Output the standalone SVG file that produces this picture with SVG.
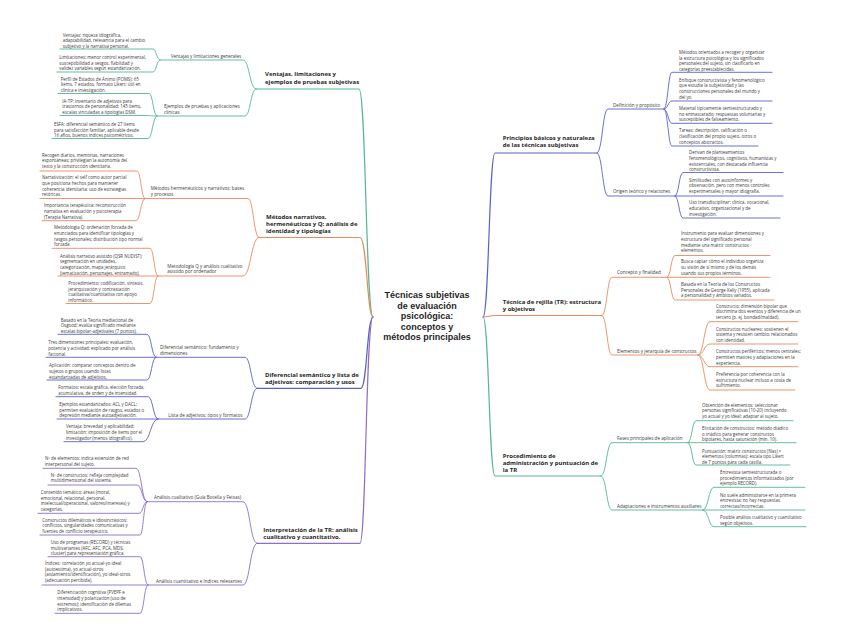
<svg xmlns="http://www.w3.org/2000/svg" width="848" height="644" viewBox="0 0 848 644">
<style>
text{font-family:"Open Sans","Liberation Sans",sans-serif}
.lf{font-size:4.4px;fill:#3b3b3b}
.sb{font-size:4.6px;fill:#3b3b3b}
.br{font-size:6px;font-weight:700;fill:#1f1f1f}
text.rt{font-family:"Liberation Sans",Arial,sans-serif;font-size:9px;font-weight:700;fill:#1f1f1f;text-anchor:middle}
#connectors path{fill:none;stroke-width:0.9;stroke-linecap:round}
#connectors path.w{stroke-width:1.2}
.g{stroke:#55b891}.o{stroke:#e98a5f}.b{stroke:#5c62c8}.p{stroke:#8d6fc6}
</style>
<rect width="848" height="644" fill="#ffffff"/>
<g id="connectors">
<path class="g w" d="M373,317 C366,317 366,89 359,89 H256"/>
<path class="o w" d="M373,317 C367,317 367,237.5 360,237.5 H259"/>
<path class="b w" d="M373,317 C367,317 367,388.3 361,388.3 H257"/>
<path class="p w" d="M373,317 C366,317 366,543.3 360,543.3 H257"/>
<path class="b w" d="M483,317 C489,317 489,153 495,153 H597"/>
<path class="o w" d="M483,317 C489,317 489,315.5 495,315.5 H602"/>
<path class="g w" d="M483,317 C489,317 489,476 495,476 H601"/>
<path class="g" d="M256,89 C249.5,89 249.5,60 243,60 H160"/>
<path class="g" d="M256,89 C250.5,89 250.5,116 245,116 H157"/>
<path class="o" d="M259,237.5 C253.5,237.5 253.5,198.5 248,198.5 H145"/>
<path class="o" d="M259,237.5 C251,237.5 251,276 243,276 H158"/>
<path class="b" d="M257,388.3 C251,388.3 251,357.3 245,357.3 H156"/>
<path class="b" d="M257,388.3 C251,388.3 251,419 245,419 H158"/>
<path class="p" d="M257,543.3 C250,543.3 250,501.7 243,501.7 H147"/>
<path class="p" d="M257,543.3 C250,543.3 250,585 243,585 H148"/>
<path class="g" d="M160,60 C156.5,60 156.5,49 153,49 H60"/>
<path class="g" d="M160,60 C156.5,60 156.5,72 153,72 H57"/>
<path class="g" d="M157,116 C153,116 153,93.5 149,93.5 H58"/>
<path class="g" d="M157,116 C151.5,116 151.5,115.5 146,115.5 H60"/>
<path class="g" d="M157,116 C152.5,116 152.5,138.5 148,138.5 H52"/>
<path class="o" d="M145,198.5 C141,198.5 141,171 137,171 H40"/>
<path class="o" d="M145,198.5 H40"/>
<path class="o" d="M145,198.5 C140.5,198.5 140.5,220.7 136,220.7 H42"/>
<path class="o" d="M158,276 C154,276 154,248.3 150,248.3 H52"/>
<path class="o" d="M158,276 H58"/>
<path class="o" d="M158,276 C154,276 154,303.5 150,303.5 H66"/>
<path class="b" d="M156,357.3 C151.5,357.3 151.5,334.3 147,334.3 H58"/>
<path class="b" d="M156,357.3 H46"/>
<path class="b" d="M156,357.3 C151.5,357.3 151.5,380 147,380 H47"/>
<path class="b" d="M158,419 C153,419 153,396.7 148,396.7 H56"/>
<path class="b" d="M158,419 H57"/>
<path class="b" d="M158,419 C150.5,419 150.5,441.7 143,441.7 H64"/>
<path class="p" d="M147,501.7 C141.5,501.7 141.5,468.3 136,468.3 H43"/>
<path class="p" d="M147,501.7 C142,501.7 142,485 137,485 H48"/>
<path class="p" d="M147,501.7 C143,501.7 143,513.3 139,513.3 H38"/>
<path class="p" d="M147,501.7 C143.5,501.7 143.5,535 140,535 H40"/>
<path class="p" d="M148,585 C144,585 144,556.7 140,556.7 H48"/>
<path class="p" d="M148,585 H42"/>
<path class="p" d="M148,585 C144,585 144,613.3 140,613.3 H55"/>
<path class="b" d="M597,153 C602.5,153 602.5,109 608,109 H664"/>
<path class="b" d="M597,153 C602.5,153 602.5,196 608,196 H675"/>
<path class="o" d="M602,315.5 C607,315.5 607,277.3 612,277.3 H667"/>
<path class="o" d="M602,315.5 C607,315.5 607,355 612,355 H698"/>
<path class="g" d="M601,476 C606.5,476 606.5,442.7 612,442.7 H688"/>
<path class="g" d="M601,476 C606.5,476 606.5,510 612,510 H703"/>
<path class="b" d="M664,109 C668,109 668,72.3 672,72.3 H772"/>
<path class="b" d="M664,109 C668,109 668,101 672,101 H772"/>
<path class="b" d="M664,109 C668,109 668,123.3 672,123.3 H772"/>
<path class="b" d="M664,109 C668,109 668,146 672,146 H758"/>
<path class="b" d="M675,196 C679,196 679,172.5 683,172.5 H783"/>
<path class="b" d="M675,196 H783"/>
<path class="b" d="M675,196 C679,196 679,218 683,218 H780"/>
<path class="o" d="M667,277.3 C671,277.3 671,255.5 675,255.5 H770"/>
<path class="o" d="M667,277.3 H770"/>
<path class="o" d="M667,277.3 C671,277.3 671,300 675,300 H774"/>
<path class="o" d="M698,355 C704,355 704,321.7 710,321.7 H798"/>
<path class="o" d="M698,355 C704,355 704,344 710,344 H798"/>
<path class="o" d="M698,355 C704,355 704,366.7 710,366.7 H798"/>
<path class="o" d="M698,355 C704,355 704,390 710,390 H795"/>
<path class="g" d="M688,442.7 C692,442.7 692,420.7 696,420.7 H793"/>
<path class="g" d="M688,442.7 H796"/>
<path class="g" d="M688,442.7 C692,442.7 692,465 696,465 H790"/>
<path class="g" d="M703,510 C708.5,510 708.5,487.3 714,487.3 H805"/>
<path class="g" d="M703,510 H805"/>
<path class="g" d="M703,510 C708.5,510 708.5,526.7 714,526.7 H806"/>
</g>

<g id="root"><text class="rt" x="427" y="298.2">Técnicas subjetivas<tspan x="427" dy="10.5">de evaluación</tspan><tspan x="427" dy="10.5">psicológica:</tspan><tspan x="427" dy="10.5">conceptos y</tspan><tspan x="427" dy="10.5">métodos principales</tspan></text></g>

<g id="b-ventajas"><text class="br" x="265" y="76.4">Ventajas, limitaciones y<tspan x="265" dy="7.2">ejemplos de pruebas subjetivas</tspan></text></g>
<g id="s-ventajas-generales"><text class="sb" x="170.7" y="58.3">Ventajas y limitaciones generales</text></g>
<g id="l-ventajas"><text class="lf" x="62.7" y="36.6">Ventajas: riqueza idiográfica,<tspan x="62.7" dy="5.65">adaptabilidad, relevancia para el cambio</tspan><tspan x="62.7" dy="5.65">subjetivo y la narrativa personal.</tspan></text></g>
<g id="l-limitaciones"><text class="lf" x="59.3" y="58.9">Limitaciones: menor control experimental,<tspan x="59.3" dy="5.65">susceptibilidad a sesgos, fiabilidad y</tspan><tspan x="59.3" dy="5.65">validez variables según estandarización.</tspan></text></g>
<g id="s-ejemplos"><text class="sb" x="164" y="108.3">Ejemplos de pruebas y aplicaciones<tspan x="164" dy="5.7">clínicas</tspan></text></g>
<g id="l-poms"><text class="lf" x="60.7" y="80.6">Perfil de Estados de Ánimo (POMS): 65<tspan x="60.7" dy="5.65">ítems, 7 estados, formato Likert; útil en</tspan><tspan x="60.7" dy="5.65">clínica e investigación.</tspan></text></g>
<g id="l-iatp"><text class="lf" x="62.3" y="102.6">IA-TP: inventario de adjetivos para<tspan x="62.3" dy="5.65">trastornos de personalidad; 145 ítems,</tspan><tspan x="62.3" dy="5.65">escalas vinculadas a tipologías DSM.</tspan></text></g>
<g id="l-esfa"><text class="lf" x="54" y="125.9">ESFA: diferencial semántico de 27 ítems<tspan x="54" dy="5.65">para satisfacción familiar, aplicable desde</tspan><tspan x="54" dy="5.65">16 años, buenos índices psicométricos.</tspan></text></g>

<g id="b-narrativos"><text class="br" x="266" y="218.8">Métodos narrativos,<tspan x="266" dy="7">hermenéuticos y Q: análisis de</tspan><tspan x="266" dy="7">identidad y tipologías</tspan></text></g>
<g id="s-hermeneuticos"><text class="sb" x="150.7" y="190.3">Métodos hermenéuticos y narrativos: bases<tspan x="150.7" dy="5.7">y procesos</tspan></text></g>
<g id="l-recogen"><text class="lf" x="42" y="156.6">Recogen diarios, memorias, narraciones<tspan x="42" dy="5.65">espontáneas; privilegian la autonomía del</tspan><tspan x="42" dy="5.65">texto y la construcción identitaria.</tspan></text></g>
<g id="l-narrativizacion"><text class="lf" x="42" y="179.3">Narrativización: el self como autor parcial<tspan x="42" dy="5.65">que posiciona hechos para mantener</tspan><tspan x="42" dy="5.65">coherencia identitaria; uso de estrategias</tspan><tspan x="42" dy="5.65">retóricas.</tspan></text></g>
<g id="l-terapeutica"><text class="lf" x="44" y="207.3">Importancia terapéutica: reconstrucción<tspan x="44" dy="5.65">narrativa en evaluación y psicoterapia</tspan><tspan x="44" dy="5.65">(Terapia Narrativa).</tspan></text></g>
<g id="s-metodologia-q"><text class="sb" x="167.3" y="267.6">Metodología Q y análisis cualitativo<tspan x="167.3" dy="5.7">asistido por ordenador</tspan></text></g>
<g id="l-q"><text class="lf" x="54" y="229.3">Metodología Q: ordenación forzada de<tspan x="54" dy="5.65">enunciados para identificar tipologías y</tspan><tspan x="54" dy="5.65">rasgos personales; distribución tipo normal</tspan><tspan x="54" dy="5.65">forzada.</tspan></text></g>
<g id="l-nudist"><text class="lf" x="60" y="257.6">Análisis narrativo asistido (QSR NUDIST):<tspan x="60" dy="5.65">segmentación en unidades,</tspan><tspan x="60" dy="5.65">categorización, mapa jerárquico</tspan><tspan x="60" dy="5.65">(tematización, personajes, entramado).</tspan></text></g>
<g id="l-procedimiento"><text class="lf" x="68.3" y="284.9">Procedimiento: codificación, síntesis,<tspan x="68.3" dy="5.65">jerarquización y contrastación</tspan><tspan x="68.3" dy="5.65">cualitativa/cuantitativa con apoyo</tspan><tspan x="68.3" dy="5.65">informático.</tspan></text></g>

<g id="b-diferencial"><text class="br" x="265" y="377">Diferencial semántico y lista de<tspan x="265" dy="7">adjetivos: comparación y usos</tspan></text></g>
<g id="s-diferencial"><text class="sb" x="160" y="349.3">Diferencial semántico: fundamento y<tspan x="160" dy="5.7">dimensiones</tspan></text></g>
<g id="l-osgood"><text class="lf" x="60.7" y="321.6">Basado en la Teoría mediacional de<tspan x="60.7" dy="5.65">Osgood; evalúa significado mediante</tspan><tspan x="60.7" dy="5.65">escalas bipolar-adjetivales (7 puntos).</tspan></text></g>
<g id="l-dimensiones"><text class="lf" x="48.3" y="344.3">Tres dimensiones principales: evaluación,<tspan x="48.3" dy="5.65">potencia y actividad; explicado por análisis</tspan><tspan x="48.3" dy="5.65">factorial.</tspan></text></g>
<g id="l-aplicacion"><text class="lf" x="49" y="367.3">Aplicación: comparar conceptos dentro de<tspan x="49" dy="5.65">sujetos o grupos usando listas</tspan><tspan x="49" dy="5.65">estandarizadas de adjetivos.</tspan></text></g>
<g id="s-lista"><text class="sb" x="168.3" y="416.6">Lista de adjetivos: tipos y formatos</text></g>
<g id="l-formatos"><text class="lf" x="58.3" y="388.9">Formatos: escala gráfica, elección forzada,<tspan x="58.3" dy="5.65">acumulativa, de orden y de intensidad.</tspan></text></g>
<g id="l-acl"><text class="lf" x="59.3" y="405.9">Ejemplos estandarizados: ACL y DACL;<tspan x="59.3" dy="5.65">permiten evaluación de rasgos, estados o</tspan><tspan x="59.3" dy="5.65">depresión mediante autoadjetivación.</tspan></text></g>
<g id="l-ventaja"><text class="lf" x="66" y="428.3">Ventaja: brevedad y aplicabilidad;<tspan x="66" dy="5.65">limitación: imposición de ítems por el</tspan><tspan x="66" dy="5.65">investigador (menos idiográfico).</tspan></text></g>

<g id="b-interpretacion"><text class="br" x="263.3" y="532">Interpretación de la TR: análisis<tspan x="263.3" dy="7">cualitativo y cuantitativo.</tspan></text></g>
<g id="s-cualitativo"><text class="sb" x="154" y="498.9">Análisis cualitativo (Guía Botella y Feixas)</text></g>
<g id="l-elementos"><text class="lf" x="45" y="459.9">Nº de elementos: indica extensión de red<tspan x="45" dy="5.65">interpersonal del sujeto.</tspan></text></g>
<g id="l-constructos"><text class="lf" x="50.7" y="476.6">Nº de constructos: refleja complejidad<tspan x="50.7" dy="5.65">multidimensional del sistema.</tspan></text></g>
<g id="l-contenido"><text class="lf" x="40.7" y="493.9">Contenido temático: áreas (moral,<tspan x="40.7" dy="5.65">emocional, relacional, personal,</tspan><tspan x="40.7" dy="5.65">intelectual/operacional, valores/intereses) y</tspan><tspan x="40.7" dy="5.65">categorías.</tspan></text></g>
<g id="l-dilematicos"><text class="lf" x="42.3" y="521.6">Constructos dilemáticos e idiosincrásicos:<tspan x="42.3" dy="5.65">conflictos, singularidades comunicativas y</tspan><tspan x="42.3" dy="5.65">fuentes de conflicto terapéutico.</tspan></text></g>
<g id="s-cuantitativo"><text class="sb" x="156" y="582.6">Análisis cuantitativo e índices relevantes</text></g>
<g id="l-record"><text class="lf" x="50.7" y="543.9">Uso de programas (RECORD) y técnicas<tspan x="50.7" dy="5.65">multivariantes (AFC, AFC, PCA, MDS,</tspan><tspan x="50.7" dy="5.65">cluster) para representación gráfica.</tspan></text></g>
<g id="l-indices"><text class="lf" x="45" y="564.9">Índices: correlación yo actual-yo ideal<tspan x="45" dy="5.65">(autoestima), yo actual-otros</tspan><tspan x="45" dy="5.65">(aislamiento/identificación), yo ideal-otros</tspan><tspan x="45" dy="5.65">(adecuación percibida).</tspan></text></g>
<g id="l-diferenciacion"><text class="lf" x="57.3" y="594.3">Diferenciación cognitiva (PVEPF e<tspan x="57.3" dy="5.65">intensidad) y polarización (uso de</tspan><tspan x="57.3" dy="5.65">extremos); identificación de dilemas</tspan><tspan x="57.3" dy="5.65">implicativos.</tspan></text></g>

<g id="b-principios"><text class="br" x="502.7" y="140.3">Principios básicos y naturaleza<tspan x="502.7" dy="7">de las técnicas subjetivas</tspan></text></g>
<g id="s-definicion"><text class="sb" x="613" y="106.6">Definición y propósito</text></g>
<g id="l-metodos"><text class="lf" x="679" y="53.9">Métodos orientados a recoger y organizar<tspan x="679" dy="5.65">la estructura psicológica y los significados</tspan><tspan x="679" dy="5.65">personales del sujeto, sin clasificarlo en</tspan><tspan x="679" dy="5.65">categorías preestablecidas.</tspan></text></g>
<g id="l-enfoque"><text class="lf" x="679" y="81.6">Enfoque constructivista y fenomenológico<tspan x="679" dy="5.65">que estudia la subjetividad y las</tspan><tspan x="679" dy="5.65">construcciones personales del mundo y</tspan><tspan x="679" dy="5.65">del yo.</tspan></text></g>
<g id="l-material"><text class="lf" x="679" y="109.9">Material típicamente semiestructurado y<tspan x="679" dy="5.65">no enmascarado; respuestas voluntarias y</tspan><tspan x="679" dy="5.65">susceptibles de falseamiento.</tspan></text></g>
<g id="l-tareas"><text class="lf" x="679" y="132.3">Tareas: descripción, calificación o<tspan x="679" dy="5.65">clasificación del propio sujeto, otros o</tspan><tspan x="679" dy="5.65">conceptos abstractos.</tspan></text></g>
<g id="s-origen"><text class="sb" x="613" y="192.6">Origen teórico y relaciones</text></g>
<g id="l-derivan"><text class="lf" x="689" y="154.3">Derivan de planteamientos<tspan x="689" dy="5.65">fenomenológicos, cognitivos, humanistas y</tspan><tspan x="689" dy="5.65">existenciales, con destacada influencia</tspan><tspan x="689" dy="5.65">constructivista.</tspan></text></g>
<g id="l-similitudes"><text class="lf" x="689" y="181.6">Similitudes con autoinformes y<tspan x="689" dy="5.65">observación, pero con menos controles</tspan><tspan x="689" dy="5.65">experimentales y mayor idiografía.</tspan></text></g>
<g id="l-uso"><text class="lf" x="689" y="204.3">Uso transdisciplinar: clínica, vocacional,<tspan x="689" dy="5.65">educativo, organizacional y de</tspan><tspan x="689" dy="5.65">investigación.</tspan></text></g>

<g id="b-rejilla"><text class="br" x="502.7" y="304.3">Técnica de rejilla (TR): estructura<tspan x="502.7" dy="7">y objetivos</tspan></text></g>
<g id="s-concepto"><text class="sb" x="617" y="274.3">Concepto y finalidad</text></g>
<g id="l-instrumento"><text class="lf" x="681" y="235.3">Instrumento para evaluar dimensiones y<tspan x="681" dy="5.65">estructura del significado personal</tspan><tspan x="681" dy="5.65">mediante una matriz constructos -</tspan><tspan x="681" dy="5.65">elementos.</tspan></text></g>
<g id="l-busca"><text class="lf" x="681" y="263.3">Busca captar cómo el individuo organiza<tspan x="681" dy="5.65">su visión de sí mismo y de los demás</tspan><tspan x="681" dy="5.65">usando sus propios términos.</tspan></text></g>
<g id="l-kelly"><text class="lf" x="681" y="285.9">Basada en la Teoría de los Constructos<tspan x="681" dy="5.65">Personales de George Kelly (1955), aplicada</tspan><tspan x="681" dy="5.65">a personalidad y ámbitos variados.</tspan></text></g>
<g id="s-elementos"><text class="sb" x="617" y="352.6">Elementos y jerarquía de constructos</text></g>
<g id="l-constructo"><text class="lf" x="716" y="307.6">Constructo: dimensión bipolar que<tspan x="716" dy="5.65">discrimina dos eventos y diferencia de un</tspan><tspan x="716" dy="5.65">tercero (p. ej. bondad/maldad).</tspan></text></g>
<g id="l-nucleares"><text class="lf" x="716" y="330.6">Constructos nucleares: sostienen el<tspan x="716" dy="5.65">sistema y resisten cambio; relacionados</tspan><tspan x="716" dy="5.65">con identidad.</tspan></text></g>
<g id="l-perifericos"><text class="lf" x="716" y="353.3">Constructos periféricos: menos centrales;<tspan x="716" dy="5.65">permiten matices y adaptaciones en la</tspan><tspan x="716" dy="5.65">experiencia.</tspan></text></g>
<g id="l-preferencia"><text class="lf" x="716" y="375.9">Preferencia por coherencia con la<tspan x="716" dy="5.65">estructura nuclear incluso a costa de</tspan><tspan x="716" dy="5.65">sufrimiento.</tspan></text></g>

<g id="b-procedimiento"><text class="br" x="502.7" y="458">Procedimiento de<tspan x="502.7" dy="7">administración y puntuación de</tspan><tspan x="502.7" dy="7">la TR</tspan></text></g>
<g id="s-fases"><text class="sb" x="617" y="439.9">Fases principales de aplicación</text></g>
<g id="l-obtencion"><text class="lf" x="702" y="406.6">Obtención de elementos: seleccionar<tspan x="702" dy="5.65">personas significativas (10-20) incluyendo</tspan><tspan x="702" dy="5.65">yo actual y yo ideal; adaptar al sujeto.</tspan></text></g>
<g id="l-elicitacion"><text class="lf" x="702" y="429.9">Elicitación de constructos: método diádico<tspan x="702" dy="5.65">o triádico para generar constructos</tspan><tspan x="702" dy="5.65">bipolares, hasta saturación (mín. 10).</tspan></text></g>
<g id="l-puntuacion"><text class="lf" x="702" y="452.6">Puntuación: matriz constructos (filas) ×<tspan x="702" dy="5.65">elementos (columnas); escala tipo Likert</tspan><tspan x="702" dy="5.65">de 7 puntos para cada casilla.</tspan></text></g>
<g id="s-adaptaciones"><text class="sb" x="617" y="507.6">Adaptaciones e instrumentos auxiliares</text></g>
<g id="l-entrevista"><text class="lf" x="720" y="473.9">Entrevista semiestructurada o<tspan x="720" dy="5.65">procedimientos informatizados (por</tspan><tspan x="720" dy="5.65">ejemplo RECORD).</tspan></text></g>
<g id="l-nosuele"><text class="lf" x="720" y="496.6">No suele administrarse en la primera<tspan x="720" dy="5.65">entrevista; no hay respuestas</tspan><tspan x="720" dy="5.65">correctas/incorrectas.</tspan></text></g>
<g id="l-posible"><text class="lf" x="720" y="519.3">Posible análisis cualitativo y cuantitativo<tspan x="720" dy="5.65">según objetivos.</tspan></text></g>
</svg>
